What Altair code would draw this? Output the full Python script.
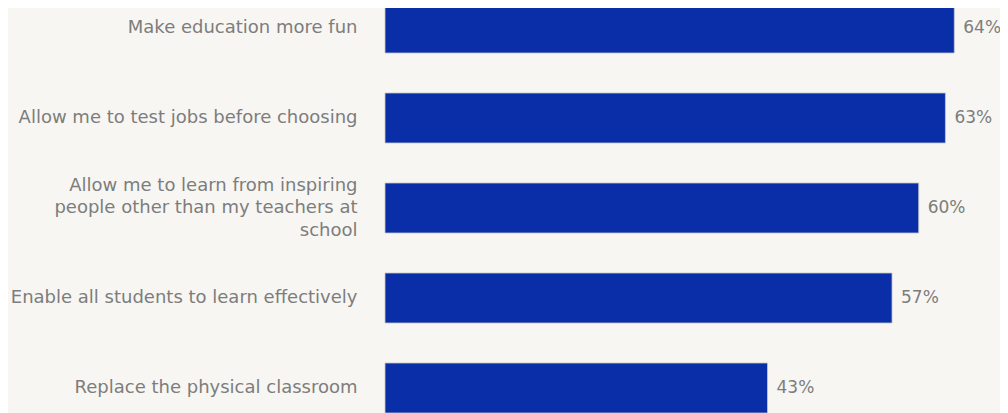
import altair as alt
import pandas as pd

categories = [
    "Make education more fun",
    "Allow me to test jobs before choosing",
    "Allow me to learn from inspiring\npeople other than my teachers at\nschool",
    "Enable all students to learn effectively",
    "Replace the physical classroom",
]
values = [64, 63, 60, 57, 43]
value_labels = ["64%", "63%", "60%", "57%", "43%"]

df = pd.DataFrame({"cat": categories, "val": values, "lab": value_labels})

FONT = "DejaVu Sans"
GRAY = "#7d7d7d"

y = alt.Y(
    "cat:N",
    sort=None,
    scale=alt.Scale(paddingInner=0.4444, paddingOuter=0),
    axis=alt.Axis(
        title=None,
        domain=False,
        ticks=False,
        labelPadding=28,
        labelFont=FONT,
        labelFontSize=18,
        labelColor=GRAY,
        labelLineHeight=22.5,
        labelLimit=400,
        labelOffset={
            "condition": {"test": "indexof(datum.label, '\\n') >= 0", "value": -22.5},
            "value": 0,
        },
        labelExpr="split(datum.label, '\\n')",
    ),
)
x = alt.X("val:Q", scale=alt.Scale(domain=[0, 68.8]), axis=None)

bars = alt.Chart(df).mark_bar(
    color="#0a2ea8", stroke="#c8c8c8", strokeWidth=0.8
).encode(x=x, y=y)

text = alt.Chart(df).mark_text(
    align="left", baseline="middle", dx=9, font=FONT, fontSize=17, color=GRAY
).encode(x=x, y=y, text="lab:N")

chart = (
    (bars + text)
    .properties(
        width=612,
        height=410,
        padding={"left": 377, "top": -5, "right": 3, "bottom": 0},
        autosize=alt.AutoSizeParams(type="none"),
        background="#f7f6f2",
    )
    .configure_view(stroke=None)
)

chart.save("out.html", embed_options={"renderer": "svg", "actions": False})
